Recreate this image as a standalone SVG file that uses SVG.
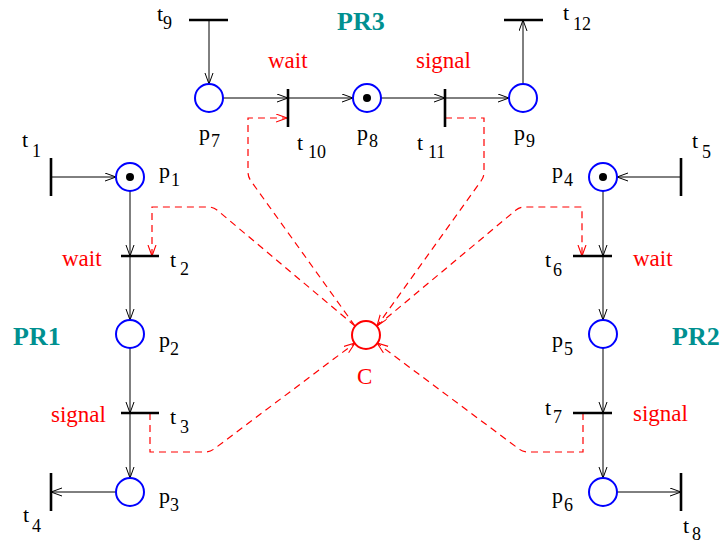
<svg xmlns="http://www.w3.org/2000/svg" width="722" height="543" viewBox="0 0 722 543">
<defs>
<style>
.pl{fill:#fff;stroke:#0000ff;stroke-width:2}
.cc{fill:#fff;stroke:#ff0000;stroke-width:2}
.tk{fill:#000}
.bar{stroke:#000;stroke-width:2.6;fill:none}
.arc{stroke:#000;stroke-width:1;fill:none;marker-end:url(#ah)}
.da{stroke:#ff0000;stroke-width:1.2;fill:none;stroke-dasharray:7 5;marker-end:url(#ahr)}
.lb{font-family:"Liberation Serif","Times New Roman",serif;font-size:22px;fill:#000}
.sb{font-size:18px}
.rd{font-family:"Liberation Serif","Times New Roman",serif;font-size:23px;fill:#ff0000}
.pr{font-family:"Liberation Serif","Times New Roman",serif;font-size:26px;font-weight:bold;fill:#009090}
</style>
<marker id="ah" markerWidth="12" markerHeight="10" refX="11" refY="4.5" orient="auto" markerUnits="userSpaceOnUse">
<path d="M0,0.5 L11,4.5 L0,8.5" fill="none" stroke="#000" stroke-width="1"/>
</marker>
<marker id="ahr" markerWidth="12" markerHeight="10" refX="11" refY="4.5" orient="auto" markerUnits="userSpaceOnUse">
<path d="M0,0.5 L11,4.5 L0,8.5" fill="none" stroke="#ff0000" stroke-width="1.1"/>
</marker>
</defs>
<rect width="722" height="543" fill="#fff"/>

<g id="connectors">
<path class="arc" d="M209,20 L209,84"/>
<path class="arc" d="M223,98 L288,98"/>
<path class="arc" d="M288,98 L353,98"/>
<path class="arc" d="M381,98 L445,98"/>
<path class="arc" d="M445,98 L509,98"/>
<path class="arc" d="M523,84 L523,20"/>
<path class="arc" d="M51,177 L116,177"/>
<path class="arc" d="M130,191 L130,256"/>
<path class="arc" d="M130,256 L130,320"/>
<path class="arc" d="M130,348 L130,413"/>
<path class="arc" d="M130,413 L130,478"/>
<path class="arc" d="M116,492 L51,492"/>
<path class="arc" d="M681,177 L617,177"/>
<path class="arc" d="M603,191 L603,256"/>
<path class="arc" d="M603,256 L603,320"/>
<path class="arc" d="M603,348 L603,413"/>
<path class="arc" d="M603,413 L603,478"/>
<path class="arc" d="M617,492 L681,492"/>
<path class="da" d="M355,326 L251,181 Q248,177 248,172 L248,118 L287,118"/>
<path class="da" d="M445,118 L484,118 L484,172 Q484,177 481,181 L377,326"/>
<path class="da" d="M355,326 L217,210 Q213,207 208,207 L152,207 L152,256"/>
<path class="da" d="M377,326 L516,210 Q520,207 525,207 L582,207 L582,256"/>
<path class="da" d="M150,413 L150,452 L205,452 Q210,452 214,449 L355,343"/>
<path class="da" d="M583,413 L583,452 L528,452 Q523,452 519,449 L377,343"/>
</g>

<g id="p7"><circle class="pl" cx="209" cy="98" r="14"/><text class="lb" x="199" y="140">p<tspan class="sb" x="211" y="147">7</tspan></text></g>
<g id="p8"><circle class="pl" cx="367" cy="98" r="14"/><circle class="tk" cx="367" cy="98" r="4"/><text class="lb" x="357" y="140">p<tspan class="sb" x="369" y="147">8</tspan></text></g>
<g id="p9"><circle class="pl" cx="523" cy="98" r="14"/><text class="lb" x="514" y="140">p<tspan class="sb" x="526" y="147">9</tspan></text></g>
<g id="p1"><circle class="pl" cx="130" cy="177" r="14"/><circle class="tk" cx="130" cy="177" r="4"/><text class="lb" x="159" y="178">p<tspan class="sb" x="171" y="186">1</tspan></text></g>
<g id="p2"><circle class="pl" cx="130" cy="334" r="14"/><text class="lb" x="159" y="347">p<tspan class="sb" x="170" y="355">2</tspan></text></g>
<g id="p3"><circle class="pl" cx="130" cy="492" r="14"/><text class="lb" x="159" y="503">p<tspan class="sb" x="170" y="511">3</tspan></text></g>
<g id="p4"><circle class="pl" cx="603" cy="177" r="14"/><circle class="tk" cx="603" cy="177" r="4"/><text class="lb" x="552" y="178">p<tspan class="sb" x="564" y="186">4</tspan></text></g>
<g id="p5"><circle class="pl" cx="603" cy="334" r="14"/><text class="lb" x="552" y="347">p<tspan class="sb" x="564" y="355">5</tspan></text></g>
<g id="p6"><circle class="pl" cx="603" cy="492" r="14"/><text class="lb" x="552" y="503">p<tspan class="sb" x="564" y="511">6</tspan></text></g>
<g id="C"><circle class="cc" cx="366" cy="335" r="14"/><text class="rd" x="357" y="384" font-size="22">C</text></g>

<g id="t9"><path class="bar" d="M189,20 L228,20"/><text class="lb" x="157" y="21">t<tspan class="sb" x="163" y="29">9</tspan></text></g>
<g id="t10"><path class="bar" d="M288,89 L288,127"/><text class="lb" x="297" y="150">t<tspan class="sb" x="308" y="158">10</tspan></text></g>
<g id="t11"><path class="bar" d="M445,89 L445,127"/><text class="lb" x="417" y="150">t<tspan class="sb" x="428" y="158">11</tspan></text></g>
<g id="t12"><path class="bar" d="M504,20 L543,20"/><text class="lb" x="563" y="20">t<tspan class="sb" x="573" y="30">12</tspan></text></g>
<g id="t1"><path class="bar" d="M51,158 L51,196"/><text class="lb" x="22" y="147">t<tspan class="sb" x="32" y="157">1</tspan></text></g>
<g id="t2"><path class="bar" d="M121,256 L159,256"/><text class="lb" x="170" y="267">t<tspan class="sb" x="180" y="275">2</tspan></text></g>
<g id="t3"><path class="bar" d="M121,413 L159,413"/><text class="lb" x="170" y="424">t<tspan class="sb" x="180" y="433">3</tspan></text></g>
<g id="t4"><path class="bar" d="M51,473 L51,511"/><text class="lb" x="23" y="522">t<tspan class="sb" x="32" y="532">4</tspan></text></g>
<g id="t5"><path class="bar" d="M681,158 L681,196"/><text class="lb" x="692" y="148">t<tspan class="sb" x="702" y="158">5</tspan></text></g>
<g id="t6"><path class="bar" d="M573,256 L612,256"/><text class="lb" x="545" y="267">t<tspan class="sb" x="553" y="276">6</tspan></text></g>
<g id="t7"><path class="bar" d="M573,413 L612,413"/><text class="lb" x="545" y="415">t<tspan class="sb" x="553" y="423">7</tspan></text></g>
<g id="t8"><path class="bar" d="M681,473 L681,511"/><text class="lb" x="683" y="533">t<tspan class="sb" x="692" y="540">8</tspan></text></g>

<g id="labels">
<text class="rd" x="268" y="68">wait</text>
<text class="rd" x="416" y="68">signal</text>
<text class="rd" x="62" y="266">wait</text>
<text class="rd" x="51" y="422">signal</text>
<text class="rd" x="633" y="266">wait</text>
<text class="rd" x="633" y="421">signal</text>
<text class="pr" x="337" y="30">PR3</text>
<text class="pr" x="13" y="345">PR1</text>
<text class="pr" x="672" y="345">PR2</text>
</g>
</svg>
